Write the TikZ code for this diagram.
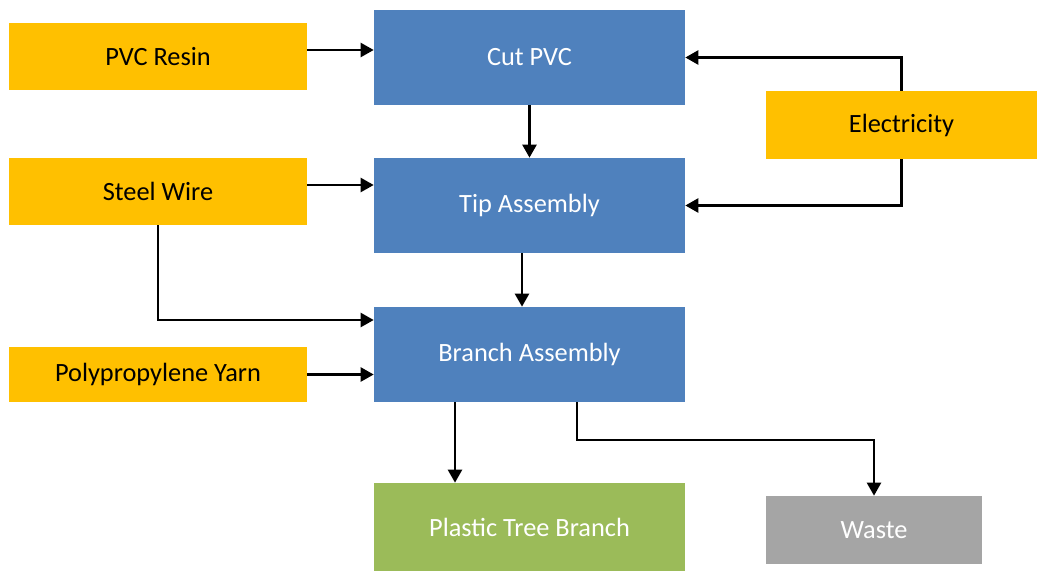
\documentclass[tikz,border=0pt]{standalone}
\usepackage{fontspec}
\setmainfont{Carlito}
\usetikzlibrary{arrows.meta}
\definecolor{inorange}{HTML}{FFC000}
\definecolor{stepblue}{HTML}{4F81BD}
\definecolor{prodgreen}{HTML}{9BBB59}
\definecolor{wastegray}{HTML}{A5A5A5}
\begin{document}
\begin{tikzpicture}[x=0.02cm,y=-0.02cm,
	box/.style={rectangle,inner sep=0pt,font=\fontsize{15}{18}\selectfont},
	input/.style={box,fill=inorange,text=black},
	stepbox/.style={box,fill=stepblue,text=white,minimum width=6.22cm,minimum height=1.9cm},
	flow/.style={-{Triangle[length=2.6mm,width=2.8mm]},line width=1.4pt}]
	\useasboundingbox (0,0) rectangle (1037,571);
	\node[input,minimum width=5.96cm,minimum height=1.34cm] at (158,56.5) (resin) {PVC Resin};
	\node[input,minimum width=5.96cm,minimum height=1.34cm] at (158,191.5) (wire) {Steel Wire};
	\node[input,minimum width=5.96cm,minimum height=1.1cm] at (158,374.5) (yarn) {Polypropylene Yarn};
	\node[input,minimum width=5.42cm,minimum height=1.36cm] at (901.5,125) (elec) {Electricity};
	\node[stepbox] at (529.5,57.5) (cut) {Cut PVC};
	\node[stepbox] at (529.5,205.5) (tip) {Tip Assembly};
	\node[stepbox] at (529.5,354.5) (branch) {Branch Assembly};
	\node[box,fill=prodgreen,text=white,minimum width=6.22cm,minimum height=1.76cm] at (529.5,527) (tree) {Plastic Tree Branch};
	\node[box,fill=wastegray,text=white,minimum width=4.32cm,minimum height=1.36cm] at (874,530) (waste) {Waste};
	\draw[flow] (resin.east |- 0,50) -- (cut.west |- 0,50);
	\draw[flow] (cut.south) -- (tip.north);
	\draw[flow] (elec.north) |- (cut.east);
	\draw[flow] (elec.south) |- (tip.east);
	\draw[flow] (wire.east |- 0,185) -- (tip.west |- 0,185);
	\draw[flow] (wire.south) |- (branch.west |- 0,320);
	\draw[flow] (tip.south -| 522,0) -- (branch.north -| 522,0);
	\draw[flow] (yarn.east) -- (branch.west |- yarn.east);
	\draw[flow] (branch.south -| 455,0) -- (tree.north -| 455,0);
	\draw[flow] (branch.south -| 577,0) |- (waste.north |- 0,440) -- (waste.north);
\end{tikzpicture}
\end{document}
